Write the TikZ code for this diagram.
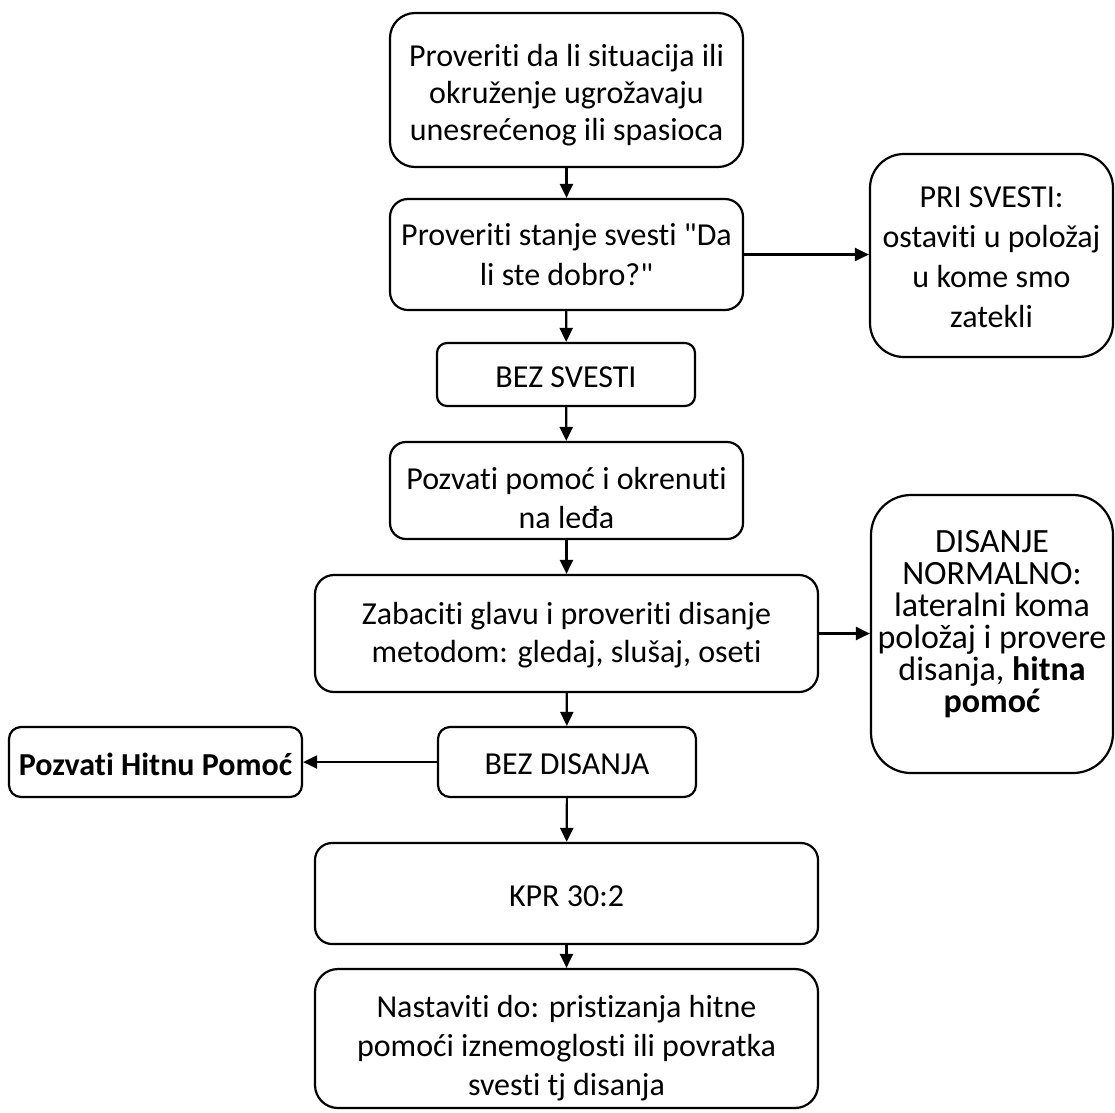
\documentclass[tikz,border=0pt]{standalone}
\usepackage{fontspec}
\setmainfont{Carlito}[Ligatures={TeX,NoCommon}]
\usetikzlibrary{arrows.meta}

% let lines keep a fixed spacing even when glyphs come close
\newcommand\tightlines{\lineskiplimit=-30pt\relax}

\tikzset{
  x=1pt, y=-1pt,
  card/.style={draw, line width=2.2pt, rounded corners=#1, inner sep=0pt},
  words/.style={align=center, inner sep=0pt, font={\fontsize{32}{#1}\selectfont\tightlines}},
  bigwords/.style={align=center, inner sep=0pt, font={\fontsize{34}{#1}\selectfont\tightlines}},
  link/.style={line width=2.2pt, -{Triangle[length=14pt,width=13pt]}},
}

\begin{document}
\begin{tikzpicture}
\useasboundingbox (0,0) rectangle (1115,1112);

% main column
\node[card=25, minimum width=353pt, minimum height=154pt] (check) at (566.5,90) {};
\node[words=36.7] (checkT) at (566.5,95) {Proveriti da li situacija ili\\okruženje ugrožavaju\\unesrećenog ili spasioca};

\node[card=18, minimum width=353pt, minimum height=111pt] (conscious) at (566.5,254.5) {};
\node[words=40] (consciousT) at (566.5,255) {Proveriti stanje svesti \textquotedbl Da\\li ste dobro?\textquotedbl};

\node[card=10, minimum width=258pt, minimum height=63pt] (unconscious) at (566,374.5) {};
\node[words=38] (unconsciousT) at (566,377) {BEZ SVESTI};

\node[card=16, minimum width=353pt, minimum height=97pt] (callhelp) at (566.5,490.5) {};
\begin{scope}
  \clip (390,442) rectangle (743,527);
  \node[words=39] (callhelpT) at (566.5,498) {Pozvati pomoć i okrenuti\\na leđa};
\end{scope}

\node[card=19, minimum width=503pt, minimum height=117pt] (breath) at (566.5,633.5) {};
\node[words=38] (breathT) at (566.5,635) {Zabaciti glavu i proveriti disanje\\metodom: gledaj, slušaj, oseti};

\node[card=12, minimum width=258pt, minimum height=70pt] (nobreath) at (567,762) {};
\node[words=38] (nobreathT) at (567,764) {BEZ DISANJA};

\node[card=17, minimum width=503pt, minimum height=101pt] (cpr) at (566.5,893.5) {};
\node[words=38] (cprT) at (566.5,896) {KPR 30:2};

\node[card=23, minimum width=503pt, minimum height=139pt] (continue) at (566.5,1038.5) {};
\node[words=39] (continueT) at (566.5,1048) {Nastaviti do: pristizanja hitne\\pomoći iznemoglosti ili povratka\\svesti tj disanja};

% side branches
\node[card=34, minimum width=243pt, minimum height=203pt] (aware) at (991.5,255.5) {};
\node[words=40] (awareT) at (991.5,257) {PRI SVESTI:\\ostaviti u položaj\\u kome smo\\zatekli};

\node[card=40, minimum width=242pt, minimum height=278pt] (normal) at (992,634) {};
\node[bigwords=32] (normalT) at (992,624) {DISANJE\\NORMALNO:\\lateralni koma\\položaj i provere\\disanja, \textbf{hitna}\\\textbf{pomoć}};

\node[card=12, minimum width=293pt, minimum height=70pt] (emergency) at (155.5,762) {};
\node[words=38] (emergencyT) at (155.5,764) {\textbf{Pozvati Hitnu Pomoć}};

% connectors
\draw[link] (check) -- (conscious);
\draw[link] (conscious.east) -- (conscious.east -| aware.west);
\draw[link] (conscious) -- (unconscious);
\draw[link] (unconscious) -- (callhelp);
\draw[link] (callhelp) -- (breath);
\draw[link] (breath.east) -- (breath.east -| normal.west);
\draw[link] (breath) -- (nobreath);
\draw[link] (nobreath) -- (emergency);
\draw[link] (nobreath) -- (cpr);
\draw[link] (cpr) -- (continue);
\end{tikzpicture}
\end{document}
